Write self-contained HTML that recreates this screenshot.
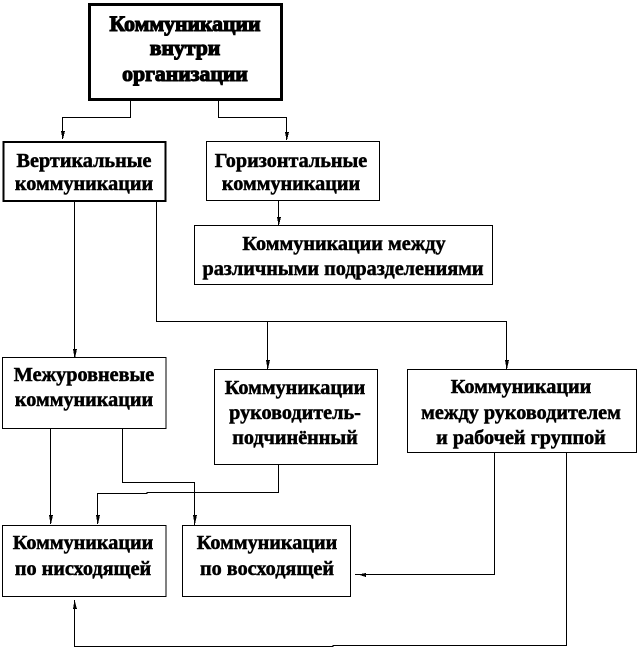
<!DOCTYPE html>
<html lang="ru">
<head>
<meta charset="utf-8">
<style>
html,body{margin:0;padding:0;background:#fff;width:640px;height:648px;overflow:hidden}
svg{display:block}
text{font-family:"Liberation Serif","DejaVu Serif",serif;font-weight:700;font-size:20.2px;fill:#000;text-anchor:middle;stroke:#000;stroke-width:.5px}
.h{font-size:21.7px;stroke-width:1.1px}
rect{fill:#fff;stroke:#000;stroke-width:1.3}
path.c{fill:none;stroke:#000;stroke-width:1.3}
path.a{fill:#000;stroke:none}
</style>
</head>
<body>
<svg width="640" height="648" viewBox="0 0 640 648" xmlns="http://www.w3.org/2000/svg" shape-rendering="crispEdges">
<path class="c" d="M130.5 100V117.5H62.5V139"/>
<path class="c" d="M218.5 100V117.5H286.5V140"/>
<path class="c" d="M74.5 202V357"/>
<path class="c" d="M156.5 202V321.5H506.5V369"/>
<path class="c" d="M267.5 321.5V369"/>
<path class="c" d="M278.5 201V225"/>
<path class="c" d="M50.5 429V524"/>
<path class="c" d="M122.5 429V482.5H194.5V525"/>
<path class="c" d="M278.5 465V492.5H147V493.5H97.5V524"/>
<path class="c" d="M494.5 453V574.5H355"/>
<path class="c" d="M566.5 453V645.5H333V646.5H74.5V600"/>
<path class="a" d="M61 131H65L63 139H62.5Z"/>
<path class="a" d="M285 132H289L287 140H286.5Z"/>
<path class="a" d="M73 349H77L75 358H74.5Z"/>
<path class="a" d="M266 360H270L268 369H267.5Z"/>
<path class="a" d="M505 360H509L507 369H506.5Z"/>
<path class="a" d="M277 217H281L279 225H278.5Z"/>
<path class="a" d="M49 515H53L51 524H50.5Z"/>
<path class="a" d="M96 515H100L98 524H97.5Z"/>
<path class="a" d="M193 515H197L195 524H194.5Z"/>
<path class="a" d="M358 574.5L366 573V577Z"/>
<path class="a" d="M74.5 600L73 609H77Z"/>
<rect x="89.5" y="4.5" width="192" height="95" style="stroke-width:3"/>
<rect x="3.5" y="142" width="162" height="59" style="stroke-width:2"/>
<rect x="206.5" y="141.5" width="173" height="59"/>
<rect x="194.5" y="225.5" width="298" height="59"/>
<rect x="2.5" y="357.5" width="163.5" height="71"/>
<rect x="214.5" y="369.5" width="163" height="95"/>
<rect x="407.5" y="369.5" width="229" height="83"/>
<rect x="2.5" y="525.5" width="163.5" height="71"/>
<rect x="182.5" y="525.5" width="168" height="71"/>
<text class="h" x="185" y="31">Коммуникации</text>
<text class="h" x="185" y="55">внутри</text>
<text class="h" x="185" y="81">организации</text>
<text x="84" y="167">Вертикальные</text>
<text x="84" y="190">коммуникации</text>
<text x="291" y="167">Горизонтальные</text>
<text x="291" y="190">коммуникации</text>
<text x="344" y="250">Коммуникации между</text>
<text x="343" y="275">различными подразделениями</text>
<text x="84" y="381">Межуровневые</text>
<text x="84" y="406">коммуникации</text>
<text x="295" y="394">Коммуникации</text>
<text x="295" y="419">руководитель-</text>
<text x="295" y="444">подчинённый</text>
<text x="521" y="393">Коммуникации</text>
<text x="521" y="419">между руководителем</text>
<text x="521" y="444">и рабочей группой</text>
<text x="83" y="549">Коммуникации</text>
<text x="83" y="575">по нисходящей</text>
<text x="267" y="549">Коммуникации</text>
<text x="267" y="575">по восходящей</text>
</svg>
</body>
</html>
